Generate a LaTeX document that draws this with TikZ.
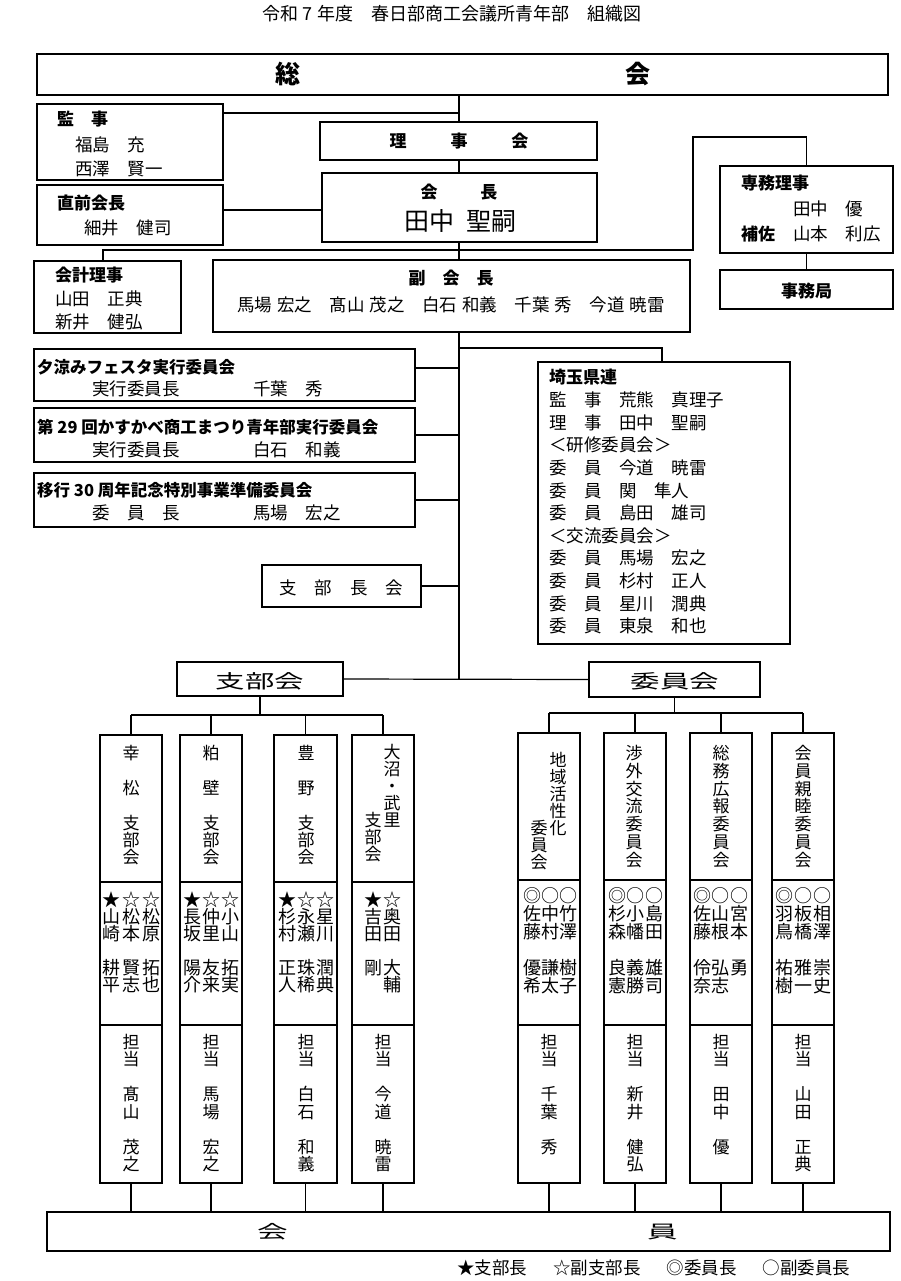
\documentclass[tikz,border=0pt]{standalone}
\usepackage{fontspec}
\usepackage{graphicx}
\setmainfont{Noto Sans CJK JP}
\newcommand{\mybox}[5]{\node[box,minimum width={(#4-#2)*1pt},minimum height={(#5-#3)*1pt}] (#1) at (#2,#3) {};}
\newcommand{\vs}{\rule{0pt}{14pt}}
\newcommand{\nols}{\lineskiplimit -20pt\relax}
\begin{document}
\begin{tikzpicture}[x=1pt,y=-1pt,
  box/.style={draw,line width=1.3pt,inner sep=0pt,outer sep=0pt,anchor=north west},
  conn/.style={line width=1.2pt},
  tx/.style={inner sep=0pt,anchor=west,font=\fontsize{17.5}{17.5}\selectfont},
  hd/.style={inner sep=0pt,anchor=west,font=\fontsize{17}{17}\selectfont\bfseries},
  ct/.style={inner sep=0pt,anchor=center,font=\fontsize{17.5}{17.5}\selectfont},
  cb/.style={inner sep=0pt,anchor=center,font=\fontsize{17}{17}\selectfont\bfseries},
  vt/.style={inner sep=0pt,anchor=north,align=center,font=\fontsize{17}{17}\selectfont\nols},
  vm/.style={inner sep=0pt,anchor=north,align=center,font=\fontsize{18}{17}\selectfont\nols},
  vc/.style={inner sep=0pt,anchor=north,align=center,font=\fontsize{18}{18}\selectfont\nols},
  vd/.style={inner sep=0pt,anchor=north,align=center,font=\fontsize{17}{17.5}\selectfont\nols},
  vw/.style={inner sep=0pt,anchor=north,align=center,font=\fontsize{17}{17.8}\selectfont\nols},
]
\useasboundingbox (0,0) rectangle (900,1281);

% ---------- boxes ----------
\mybox{sokai}{37}{54}{888}{95}
\mybox{kanji}{37}{104}{223}{180}
\mybox{riji}{320}{122}{597}{160}
\mybox{kaicho}{322}{173}{597}{242}
\mybox{zen}{37}{185}{223}{245}
\mybox{kaikei}{34}{261}{181}{333}
\mybox{fuku}{213}{260}{690}{332}
\mybox{senmu}{720}{166}{893}{253}
\mybox{jimu}{720}{270}{893}{309}
\mybox{yusu}{34}{349}{415}{401}
\mybox{dai}{34}{408}{415}{462}
\mybox{ikou}{34}{473}{415}{527}
\mybox{shibucho}{262}{565}{421}{607}
\mybox{saitama}{538}{362}{790}{644}
\mybox{shibukai}{177}{662}{343}{696}
\mybox{iinkai}{589}{662}{760}{697}
\mybox{kaiin}{47}{1212}{890}{1251}
% branch columns
\mybox{c1h}{100}{735}{162}{882}\mybox{c1m}{100}{882}{162}{1025}\mybox{c1b}{100}{1025}{162}{1183}
\mybox{c2h}{180}{735}{242}{882}\mybox{c2m}{180}{882}{242}{1025}\mybox{c2b}{180}{1025}{242}{1183}
\mybox{c3h}{274}{735}{337}{882}\mybox{c3m}{274}{882}{337}{1025}\mybox{c3b}{274}{1025}{337}{1183}
\mybox{c4h}{352}{735}{414}{882}\mybox{c4m}{352}{882}{414}{1025}\mybox{c4b}{352}{1025}{414}{1183}
% committee columns
\mybox{d1h}{518}{733}{580}{880}\mybox{d1m}{518}{880}{580}{1025}\mybox{d1b}{518}{1025}{580}{1183}
\mybox{d2h}{604}{733}{666}{880}\mybox{d2m}{604}{880}{666}{1025}\mybox{d2b}{604}{1025}{666}{1183}
\mybox{d3h}{690}{733}{752}{880}\mybox{d3m}{690}{880}{752}{1025}\mybox{d3b}{690}{1025}{752}{1183}
\mybox{d4h}{772}{733}{834}{880}\mybox{d4m}{772}{880}{834}{1025}\mybox{d4b}{772}{1025}{834}{1183}

% ---------- connectors ----------
\coordinate (T) at (459,0);
\coordinate (k113) at (459,113);
\coordinate (z210) at (0,210);
\coordinate (p1) at (103,250);
\coordinate (p2) at (693,250);
\coordinate (p3) at (693,137);
\coordinate (sk) at (662,348);
\coordinate (y368) at (459,368);
\coordinate (b715) at (0,715);
\coordinate (b713) at (0,713);
\draw[conn] (sokai.south -| T) -- (riji.north -| T);
\draw[conn] (riji.south -| T) -- (kaicho.north -| T);
\draw[conn] (kaicho.south -| T) -- (fuku.north -| T);
\draw[conn] (fuku.south -| T) -- (shibukai.east -| T);
\draw[conn] (kanji.east |- k113) -- (k113);
\draw[conn] (zen.east |- z210) -- (kaicho.west |- z210);
\draw[conn] (kaikei.north -| p1) -- (p1) -- (p2) -- (p3) -- (p3 -| senmu.north) -- (senmu.north);
\draw[conn] (senmu.south) -- (jimu.north);
\draw[conn] (T |- sk) -- (sk) -- (sk |- saitama.north);
\draw[conn] (yusu.east |- y368) -- (y368);
\draw[conn] (dai.east) -- (dai.east -| T);
\draw[conn] (ikou.east) -- (ikou.east -| T);
\draw[conn] (shibucho.east) -- (shibucho.east -| T);
\draw[conn] (shibukai.east) -- (iinkai.west);
\draw[conn] (shibukai.south) -- (shibukai.south |- b715);
\draw[conn] (c1h.north |- b715) -- (c4h.north |- b715);
\foreach \c in {c1h,c2h,c3h,c4h}{\draw[conn] (\c.north |- b715) -- (\c.north);}
\draw[conn] (iinkai.south) -- (iinkai.south |- b713);
\draw[conn] (d1h.north |- b713) -- (d4h.north |- b713);
\foreach \c in {d1h,d2h,d3h,d4h}{\draw[conn] (\c.north |- b713) -- (\c.north);}
\foreach \c in {c1b,c2b,c3b,c4b,d1b,d2b,d3b,d4b}{\draw[conn] (\c.south) -- (\c.south |- kaiin.north);}

% ---------- texts ----------
\node[inner sep=0pt,font=\fontsize{18}{18}\selectfont] (title) at (452,14) {令和 7 年度　春日部商工会議所青年部　組織図};
\node[inner sep=0pt,font=\fontsize{25}{25}\selectfont\bfseries] (so1) at (288,74) {総};
\node[inner sep=0pt,font=\fontsize{25}{25}\selectfont\bfseries] (so2) at (638,74) {会};

\node[hd] (kanjiT) at (57,119) {監　事};
\node[tx] (kanji1) at (75,145) {福島　充};
\node[tx] (kanji2) at (75,169) {西澤　賢一};

\node[cb] (rijiT) at (459,141) {理\hspace{44pt}事\hspace{44pt}会};

\node[cb] (kaichoT) at (459,192) {会\hspace{43pt}長};
\node[inner sep=0pt,font=\fontsize{25}{25}\selectfont] (kaichoN) at (460,221) {田中\hspace{12pt}聖嗣};

\node[hd] (zenT) at (57,203) {直前会長};
\node[tx] (zen1) at (84,228) {細井　健司};

\node[hd] (senmuT) at (741,183) {専務理事};
\node[tx] (senmu1) at (793,209) {田中　優};
\node[hd] (senmu2) at (741,234) {補佐};
\node[tx] (senmu3) at (793,234) {山本　利広};
\node[cb] (jimuT) at (806.5,291) {事務局};

\node[hd] (kaikeiT) at (55,275) {会計理事};
\node[tx] (kaikei1) at (55,299) {山田　正典};
\node[tx] (kaikei2) at (55,322) {新井　健弘};

\node[cb] (fukuT) at (451,278) {副　会　長};
\node[ct] (fukuN) at (451,305) {馬場\hspace{5pt}宏之　髙山\hspace{5pt}茂之　白石\hspace{5pt}和義　千葉\hspace{5pt}秀　今道\hspace{5pt}暁雷};

\node[hd,font=\fontsize{16.5}{17}\selectfont\bfseries] (yusuT) at (37,367) {夕涼みフェスタ実行委員会};
\node[tx] (yusu1) at (92,389) {実行委員長};
\node[tx] (yusu2) at (253,389) {千葉　秀};
\node[hd,font=\fontsize{16.5}{17}\selectfont\bfseries] (daiT) at (37,427) {第 29 回かすかべ商工まつり青年部実行委員会};
\node[tx] (dai1) at (92,450) {実行委員長};
\node[tx] (dai2) at (253,450) {白石　和義};
\node[hd,font=\fontsize{16.5}{17}\selectfont\bfseries] (ikouT) at (37,490) {移行 30 周年記念特別事業準備委員会};
\node[tx] (ikou1) at (92,513) {委　員　長};
\node[tx] (ikou2) at (253,513) {馬場　宏之};

\node[ct] (shibuchoT) at (341.5,588) {支\hspace{18pt}部\hspace{18pt}長\hspace{18pt}会};

\node[hd] (saitamaT) at (549,377) {埼玉県連};
\foreach \t [count=\i from 0] in {監　事　荒熊　真理子,理　事　田中　聖嗣,＜研修委員会＞,委　員　今道　暁雷,委　員　関　隼人,委　員　島田　雄司,＜交流委員会＞,委　員　馬場　宏之,委　員　杉村　正人,委　員　星川　潤典,委　員　東泉　和也}
  {\node[tx] (st\i) at (549,{400+22.6*\i}) {\t};}

\node[inner sep=0pt,font=\fontsize{19}{19}\selectfont] (shibukaiT) at (260,681) {\scalebox{1.55}[1]{支部会}};
\node[inner sep=0pt,font=\fontsize{19}{19}\selectfont] (iinkaiT) at (675,681) {\scalebox{1.55}[1]{委員会}};

% branch headers
\node[vt] (h1) at (131,745) {\vs 幸\\[18pt]松\\[18pt]支\\部\\会};
\node[vt] (h2) at (211,745) {\vs 粕\\[18pt]壁\\[18pt]支\\部\\会};
\node[vt] (h3) at (306,745) {\vs 豊\\[18pt]野\\[18pt]支\\部\\会};
\node[vt] (h4a) at (392,744) {\vs 大\\沼\\・\\武\\里};
\node[vt] (h4b) at (373,812) {\vs 支\\部\\会};
% committee headers
\node[vt] (k1a) at (558,752) {\vs 地\\域\\活\\性\\化};
\node[vt] (k1b) at (539,820) {\vs 委\\員\\会};
\node[vw] (k2) at (634,745) {\vs 渉\\外\\交\\流\\委\\員\\会};
\node[vw] (k3) at (721,745) {\vs 総\\務\\広\\報\\委\\員\\会};
\node[vw] (k4) at (803,745) {\vs 会\\員\\親\\睦\\委\\員\\会};

% branch members
\node[vm] (m11) at (111,892) {\vs ★\\山\\崎\\[17pt]耕\\平};
\node[vm] (m12) at (131,892) {\vs ☆\\松\\本\\[17pt]賢\\志};
\node[vm] (m13) at (151,892) {\vs ☆\\松\\原\\[17pt]拓\\也};
\node[vm] (m21) at (192,892) {\vs ★\\長\\坂\\[17pt]陽\\介};
\node[vm] (m22) at (211,892) {\vs ☆\\仲\\里\\[17pt]友\\来};
\node[vm] (m23) at (230,892) {\vs ☆\\小\\山\\[17pt]拓\\実};
\node[vm] (m31) at (287,892) {\vs ★\\杉\\村\\[17pt]正\\人};
\node[vm] (m32) at (306,892) {\vs ☆\\永\\瀬\\[17pt]珠\\稀};
\node[vm] (m33) at (325,892) {\vs ☆\\星\\川\\[17pt]潤\\典};
\node[vm] (m41) at (373,892) {\vs ★\\吉\\田\\[17pt]剛};
\node[vm] (m42) at (392,892) {\vs ☆\\奥\\田\\[17pt]大\\輔};
% committee members
\node[vc] (n11) at (532,887) {\vs ◎\\佐\\藤\\[18pt]優\\希};
\node[vc] (n12) at (550,887) {\vs ○\\中\\村\\[18pt]謙\\太};
\node[vc] (n13) at (568,887) {\vs ○\\竹\\澤\\[18pt]樹\\子};
\node[vc] (n21) at (617,887) {\vs ◎\\杉\\森\\[18pt]良\\憲};
\node[vc] (n22) at (635,887) {\vs ○\\小\\幡\\[18pt]義\\勝};
\node[vc] (n23) at (654,887) {\vs ○\\島\\田\\[18pt]雄\\司};
\node[vc] (n31) at (702,887) {\vs ◎\\佐\\藤\\[18pt]伶\\奈};
\node[vc] (n32) at (720,887) {\vs ○\\山\\根\\[18pt]弘\\志};
\node[vc] (n33) at (739,887) {\vs ○\\宮\\本\\[18pt]勇};
\node[vc] (n41) at (784,887) {\vs ◎\\羽\\鳥\\[18pt]祐\\樹};
\node[vc] (n42) at (803,887) {\vs ○\\板\\橋\\[18pt]雅\\一};
\node[vc] (n43) at (822,887) {\vs ○\\相\\澤\\[18pt]崇\\史};

% tantou
\node[vd] (t1) at (131,1034) {\vs 担\\当\\[17.5pt]髙\\山\\[17.5pt]茂\\之};
\node[vd] (t2) at (211,1034) {\vs 担\\当\\[17.5pt]馬\\場\\[17.5pt]宏\\之};
\node[vd] (t3) at (306,1034) {\vs 担\\当\\[17.5pt]白\\石\\[17.5pt]和\\義};
\node[vd] (t4) at (383,1034) {\vs 担\\当\\[17.5pt]今\\道\\[17.5pt]暁\\雷};
\node[vd] (u1) at (549,1034) {\vs 担\\当\\[17.5pt]千\\葉\\[17.5pt]秀};
\node[vd] (u2) at (635,1034) {\vs 担\\当\\[17.5pt]新\\井\\[17.5pt]健\\弘};
\node[vd] (u3) at (721,1034) {\vs 担\\当\\[17.5pt]田\\中\\[17.5pt]優};
\node[vd] (u4) at (803,1034) {\vs 担\\当\\[17.5pt]山\\田\\[17.5pt]正\\典};

\node[inner sep=0pt,font=\fontsize{18}{18}\selectfont] (kaiin1) at (273,1232) {\scalebox{1.7}[1]{会}};
\node[inner sep=0pt,font=\fontsize{18}{18}\selectfont] (kaiin2) at (663,1232) {\scalebox{1.7}[1]{員}};

\node[tx] (legend) at (457,1268) {★支部長\hspace{26pt}☆副支部長\hspace{26pt}◎委員長\hspace{26pt}○副委員長};
\end{tikzpicture}
\end{document}
